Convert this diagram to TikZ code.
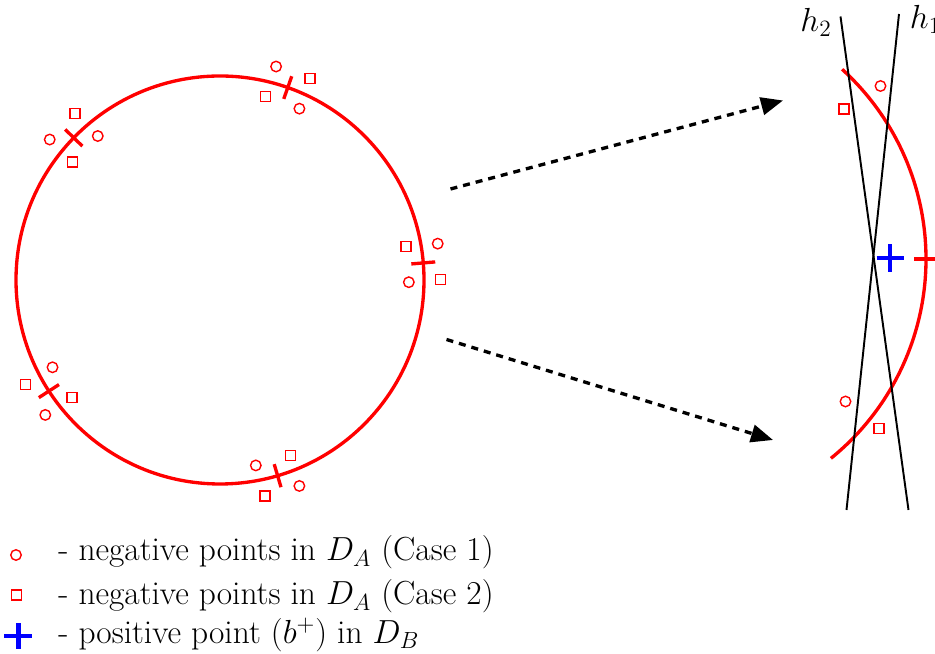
\RequirePackage{fix-cm}
\documentclass[tikz,border=0pt]{standalone}
\usepackage{amsmath}
\usetikzlibrary{arrows.meta, calc}

\begin{document}
\begin{tikzpicture}[
    font=\fontsize{19}{23}\selectfont,
    % Styles
    negcircle/.style={
        circle, draw=negred,
        line width=0.8pt,
        minimum size=0.21cm, inner sep=0pt
    },
    negsquare/.style={
        rectangle, draw=negred,
        line width=0.8pt,
        minimum size=0.2cm, inner sep=0pt
    },
    boundary/.style={
        draw=negred, line width=1.9pt
    },
    posmark/.style={
        draw=posblue, line width=2.3pt
    },
    hyperplane/.style={
        draw=black, line width=1.1pt
    },
    zoomarrow/.style={
        -{Triangle[length=12.5pt, width=10pt]},
        line width=1.9pt, dash pattern=on 4pt off 3.4pt
    },
    legendtext/.style={
        anchor=base west, inner sep=0pt
    },
]
% Define colors
\definecolor{negred}{RGB}{255,0,0}
\definecolor{posblue}{RGB}{0,0,255}

\useasboundingbox (0,0) rectangle (18.7,13.08);
\clip (0,0) rectangle (18.7,13.08);

% Decision boundary of D_A
\coordinate (C) at (4.40,7.48);
\draw[boundary] (C) circle (4.08);

% Crossings with negative points on both sides
\foreach \a [count=\i] in {4.8, 70.6, 135.8, 213, 286.4} {
    \draw[boundary] ($(C)+(\a:3.84)$) -- ($(C)+(\a:4.32)$);
    \node[negcircle] (negc-\i-out) at ($(C)+(\a:4.40)+(\a+90:0.36)$) {};
    \node[negcircle] (negc-\i-in) at ($(C)+(\a:3.76)+(\a-90:0.36)$) {};
    \node[negsquare] (negs-\i-out) at ($(C)+(\a:4.40)+(\a-90:0.36)$) {};
    \node[negsquare] (negs-\i-in) at ($(C)+(\a:3.76)+(\a+90:0.36)$) {};
}

% Zoomed view
\coordinate (Z) at (13.39,7.90);
\draw[boundary] ($(Z)+(-51:5.13)$) arc[start angle=-51, end angle=47.7, radius=5.13];
\draw[boundary] ($(Z)+(0:4.89)$) -- ($(Z)+(0:5.37)$);

\node[negcircle] (zc-top) at (17.61,11.36) {};
\node[negsquare] (zs-top) at (16.88,10.90) {};
\node[negcircle] (zc-bot) at (16.91,5.05) {};
\node[negsquare] (zs-bot) at (17.58,4.51) {};

% Hyperplanes
\coordinate (h1top) at (17.98,12.80);
\coordinate (h1bot) at (16.93,2.88);
\coordinate (h2top) at (16.81,12.75);
\coordinate (h2bot) at (18.17,2.88);
\draw[hyperplane] (h1top) -- (h1bot);
\draw[hyperplane] (h2top) -- (h2bot);
\node (h2lab) at (16.32,12.64) {$h_2$};
\node (h1lab) at (18.51,12.69) {$h_1$};

% Positive point
\coordinate (bplus) at (17.80,7.92);
\draw[posmark] ($(bplus)+(-0.27,0)$) -- ($(bplus)+(0.27,0)$);
\draw[posmark] ($(bplus)+(0,-0.28)$) -- ($(bplus)+(0,0.28)$);

% Zoom arrows
\coordinate (a1s) at (9.01,9.30);
\coordinate (a1e) at (15.66,11.07);
\coordinate (a2s) at (8.93,6.29);
\coordinate (a2e) at (15.46,4.28);
\draw[zoomarrow] (a1s) -- (a1e);
\draw[zoomarrow] (a2s) -- (a2e);

% Legend
\node[negcircle] (legc) at (0.32,1.98) {};
\node[negsquare] (legs) at (0.33,1.18) {};
\coordinate (legp) at (0.37,0.36);
\draw[posmark] ($(legp)+(-0.28,0)$) -- ($(legp)+(0.28,0)$);
\draw[posmark] ($(legp)+(0,-0.26)$) -- ($(legp)+(0,0.26)$);

\node[legendtext] (legtxt1) at (1.16,1.86) {- negative points in $D_A$ (Case 1)};
\node[legendtext] (legtxt2) at (1.16,0.98) {- negative points in $D_A$ (Case 2)};
\node[legendtext] (legtxt3) at (1.16,0.21) {- positive point $(b^+)$ in $D_B$};

\end{tikzpicture}
\end{document}
